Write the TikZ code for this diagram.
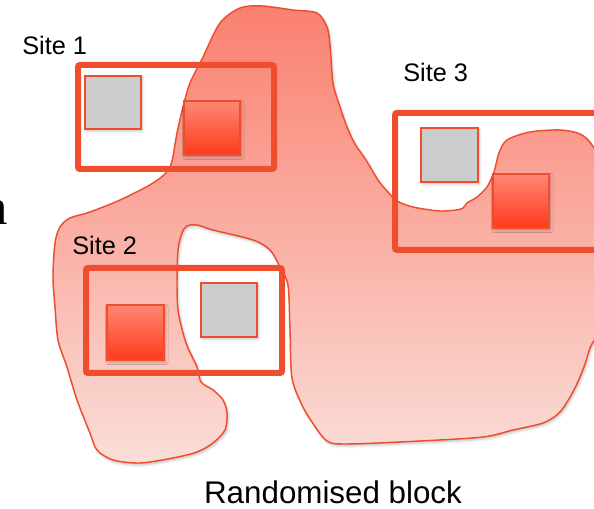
\documentclass[tikz,border=0pt]{standalone}
\usepackage{fontspec}
\setmainfont{Liberation Sans}
\newfontfamily\bigserif{Liberation Serif}
\usetikzlibrary{shadows.blur}
\definecolor{edgered}{RGB}{238,78,46}
\definecolor{blobtop}{RGB}{250,128,112}
\definecolor{blobbot}{RGB}{250,222,216}
\definecolor{boxtop}{RGB}{255,135,115}
\definecolor{boxbot}{RGB}{255,58,28}
\definecolor{plotgray}{RGB}{204,204,204}
\tikzset{
  soft/.style={blur shadow={shadow xshift=1pt, shadow yshift=-1.5pt,
      shadow blur radius=2pt, shadow opacity=25}},
  blob/.style={draw=edgered, line width=1.1pt, top color=blobtop,
      bottom color=blobbot, soft},
  sitebox/.style={draw=edgered, line width=4.5pt, rounded corners=1.5pt,
      preaction={draw=black, opacity=0.12,
        transform canvas={shift={(1pt,-1.5pt)}}}},
  control/.style={draw=edgered, line width=0.9pt, fill=plotgray, soft},
  treated/.style={draw=edgered, line width=0.9pt, top color=boxtop,
      bottom color=boxbot, soft},
  sitelabel/.style={font=\fontsize{19}{22}\selectfont, inner sep=0},
}
\begin{document}
\begin{tikzpicture}[x=0.75pt, y=-0.75pt]
\clip (0,0) rectangle (594,509);

% the randomised block
\path[blob] plot[smooth cycle, tension=0.5] coordinates {
  (240,8) (262,6) (293,10) (317,13) (327,27) (330,45) (333,83) (340,107)
  (347,127) (355,144) (366,160) (378,180) (387,191) (397,201) (413,207)
  (440,211) (461,209) (467,203) (477,197) (487,187) (494,172) (499,153)
  (507,140) (530,132) (560,130) (580,134) (592,145) (603,170) (604,260)
  (600,325) (590,348) (584,367) (574,390) (560,412) (543,423) (513,430)
  (483,437) (420,441) (347,444) (327,441) (312,422) (302,405) (292,378)
  (290,330) (288,285) (280,267) (270,250) (253,240) (213,230) (197,225)
  (187,226) (182,233) (178,250) (177,283) (178,310) (183,333) (188,348)
  (197,367) (201,382) (213,390) (223,400) (227,413) (225,430) (213,443)
  (197,452) (173,458) (140,463) (113,460) (97,450) (90,433) (77,400)
  (67,367) (58,340) (55,307) (53,277) (55,243) (60,227) (70,218) (90,212)
  (120,200) (153,183) (170,167) (177,133) (183,107) (190,83) (203,57)
  (220,23)};

% sites
\draw[sitebox] (78,65) rectangle (274,169);
\draw[sitebox] (86,268) rectangle (282,373);
\draw[sitebox] (395,113) rectangle (612,250);

% plots within each site
\path[control] (85,76) rectangle (141,129);
\path[treated] (184,101) rectangle (240,155);
\path[treated] (107,305) rectangle (164,360);
\path[control] (201,283) rectangle (257,337);
\path[control] (421,128) rectangle (478,182);
\path[treated] (493,174) rectangle (549,228);

% labels
\node[sitelabel, anchor=base west] (s1) at (22,55) {Site 1};
\node[sitelabel, anchor=base west] (s2) at (72,255) {Site 2};
\node[sitelabel, anchor=base west] (s3) at (403,82) {Site 3};
\node[font=\fontsize{23.5}{28}\selectfont, inner sep=0, anchor=base]
  (rb) at (333,504) {Randomised block};
\node[font=\bigserif\fontsize{38}{44}\selectfont, inner sep=0,
  anchor=base east] (n) at (8.5,225) {n};
\end{tikzpicture}
\end{document}
